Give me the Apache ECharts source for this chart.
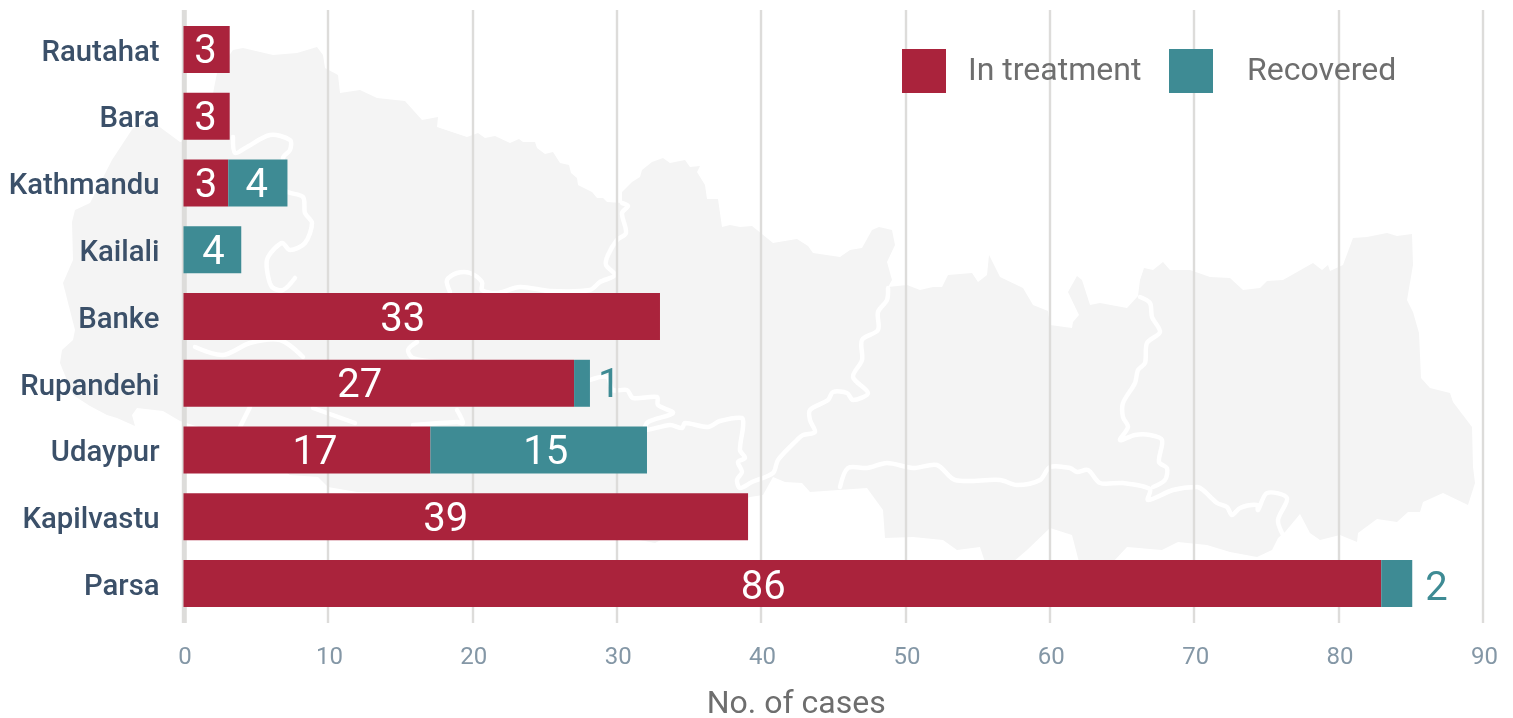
<!DOCTYPE html>
<html>
<head>
<meta charset="utf-8">
<style>html,body{margin:0;padding:0;background:#fff}#c{width:1513px;height:718px}</style>
<script src="https://cdn.jsdelivr.net/npm/echarts@6/dist/echarts.min.js"></script>
</head>
<body>
<div id="c"></div>
<script>
// Data
const districts = ['Rautahat','Bara','Kathmandu','Kailali','Banke','Rupandehi','Udaypur','Kapilvastu','Parsa'];
const inTreatment = [3.2,3.2,3.1,0,33,27.05,17.1,39.1,82.95];
const recovered   = [0,0,4.1,4,0,1.1,15,0,2.15];
// Printed labels (the reference prints 86 on a bar about 83 long)
const inTreatmentLabels = ['3','3','3','','33','27','17','39','86'];
const recoveredLabels   = ['','','4','4','','1','15','','2'];
const xTicks = [0,10,20,30,40,50,60,70,80,90];

// Hand-placed label shifts seen in the reference (px), separate from the data
const redShift  = [-1,-1,0,0,-19,-19,8,-20,-19];
const tealShift = [0,0,-1,1,0,0,7,0,0];
const tealOutsideShift = {5:3, 8:8};
const labelDrop = 4;

// Decorative backdrop: outline of Nepal (pixel geometry, not data)
const outline = [[233,50],[243,48],[273,55],[297,53],[317,47],[323,55],[325,68],[338,75],[340,93],[360,90],[377,98],[405,101],[422,120],[438,117],[437,127],[467,137],[478,133],[485,138],[495,136],[510,143],[519,139],[523,142],[535,142],[537,148],[545,154],[553,152],[560,163],[569,165],[571,173],[577,178],[578,185],[592,192],[597,198],[603,198],[607,202],[622,203],[622,192],[632,182],[640,177],[642,170],[652,162],[663,158],[670,163],[685,160],[690,167],[700,166],[697,172],[705,185],[707,199],[718,199],[722,227],[730,225],[740,227],[752,226],[762,234],[773,243],[797,239],[808,246],[813,253],[840,257],[850,250],[862,248],[872,230],[879,227],[892,230],[895,245],[887,262],[892,280],[888,287],[907,285],[920,290],[933,287],[942,287],[948,275],[972,273],[978,282],[987,275],[989,255],[1000,277],[1023,288],[1033,305],[1048,311],[1050,325],[1072,328],[1073,322],[1079,315],[1068,292],[1077,276],[1082,280],[1090,305],[1100,303],[1127,308],[1138,296],[1140,280],[1144,268],[1153,270],[1163,262],[1170,270],[1190,270],[1210,277],[1230,278],[1243,290],[1260,288],[1267,281],[1283,280],[1313,263],[1322,270],[1328,265],[1330,271],[1343,265],[1353,238],[1367,237],[1387,233],[1397,236],[1412,234],[1413,265],[1407,300],[1413,312],[1419,333],[1421,378],[1430,388],[1450,393],[1453,402],[1472,427],[1473,467],[1475,483],[1468,505],[1443,493],[1423,502],[1420,512],[1408,512],[1397,522],[1377,519],[1358,533],[1357,542],[1340,535],[1320,540],[1310,533],[1300,514],[1295,520],[1285,532],[1278,538],[1272,550],[1257,557],[1230,552],[1207,545],[1178,542],[1162,550],[1127,547],[1113,562],[1079,562],[1072,535],[1050,528],[1027,550],[1013,562],[985,562],[980,547],[957,550],[943,540],[913,537],[885,538],[883,510],[867,488],[810,492],[802,483],[785,482],[773,477],[763,495],[750,497],[700,520],[655,543],[640,540],[600,520],[430,493],[357,492],[328,487],[318,477],[290,475],[240,440],[180,421],[163,411],[137,408],[132,415],[135,426],[117,418],[107,415],[90,406],[73,395],[60,363],[62,350],[73,340],[75,330],[63,283],[73,260],[72,222],[75,210],[90,203],[112,160],[133,128],[153,122],[180,142],[205,135],[215,83],[217,73]];
const rivers = [
  [[622,203],[628,206],[622,213],[626,233],[617,240],[608,255],[606,265],[615,275],[600,282],[590,290],[550,291],[520,287],[497,293],[482,290],[482,282],[470,273],[457,273],[447,280],[450,292]],
  [[417,342],[408,350],[413,358],[440,362]],
  [[233,137],[235,153],[247,147],[270,135],[290,140],[290,150],[283,158],[285,190],[303,197],[305,213],[312,223],[305,243],[290,250],[282,243],[268,257],[267,270],[272,287],[283,290],[295,278]],
  [[195,347],[223,355],[250,343],[280,340],[303,357]],
  [[250,407],[240,427]],
  [[313,408],[355,423]],
  [[413,425],[457,422],[463,423],[457,410]],
  [[590,380],[607,377],[613,390],[627,390],[633,398],[657,397],[658,405],[673,413],[648,422],[645,430],[670,425],[682,428],[685,423],[708,427],[720,421],[742,418],[743,427],[740,450],[745,458],[738,462],[742,472],[737,480],[740,488],[752,482],[773,473],[778,460],[797,440],[803,435],[815,432],[810,420],[810,410],[828,400],[833,392],[847,393],[853,400],[868,393],[853,377],[862,360],[862,340],[878,330],[878,312],[887,300],[888,288]],
  [[840,487],[848,468],[867,468],[887,463],[913,468],[937,465],[955,480],[1000,480],[1017,485],[1040,480],[1050,467],[1070,468],[1077,472],[1088,470],[1100,483],[1123,483],[1150,489],[1148,500],[1173,490],[1197,487],[1203,490],[1217,503],[1227,507],[1232,515],[1240,508],[1257,505],[1258,510],[1267,493],[1287,498],[1278,520],[1283,535]],
  [[1140,297],[1150,303],[1152,317],[1160,332],[1147,343],[1145,363],[1138,370],[1135,383],[1123,403],[1123,417],[1128,427],[1120,440],[1135,435],[1150,435],[1162,440],[1159,462],[1167,468],[1165,480],[1153,487]]
];

const RED = '#aa233c', TEAL = '#3e8b94', FONT = 'Roboto';
const LABEL_SIZE = 40;

const redData = inTreatment.map((v,i)=>({
  value:v,
  label:{show:inTreatmentLabels[i]!=='',formatter:inTreatmentLabels[i],position:'inside',offset:[redShift[i],labelDrop + (i===8?1:0)]}
}));
const tealData = recovered.map((v,i)=>{
  const outside = tealOutsideShift[i]!==undefined;
  return {
    value:v,
    label: outside
      ? {show:true,formatter:recoveredLabels[i],position:'right',color:TEAL,offset:[tealOutsideShift[i],labelDrop + (i===8?2:0)]}
      : {show:recoveredLabels[i]!=='',formatter:recoveredLabels[i],position:'inside',offset:[tealShift[i],labelDrop]}
  };
});

const barLabel = {color:'#fff',fontFamily:FONT,fontSize:LABEL_SIZE,fontWeight:400};
const GRID_COLOR = '#dddcda';
const legendRich = pad => ({a:{color:'#6e6e6e',fontSize:32,fontFamily:FONT,padding:[1,0,0,pad]}});

const option = {
  animation:false,
  textStyle:{fontFamily:FONT},
  grid:{left:183.5,top:16,width:1299.5,height:601,containLabel:false,outerBoundsMode:'none'},
  legend:[
    {data:['In treatment'],left:902,top:49,itemWidth:44,itemHeight:44,icon:'rect',selectedMode:false,padding:0,
     formatter:n=>`{a|${n}}`,textStyle:{rich:legendRich(17)}},
    {data:['Recovered'],left:1169,top:49,itemWidth:44,itemHeight:44,icon:'rect',selectedMode:false,padding:0,
     formatter:n=>`{a|${n}}`,textStyle:{rich:legendRich(29)}}
  ],
  xAxis:[
    {type:'value',min:0,max:90,interval:10,position:'bottom',
     axisLine:{show:false},
     axisTick:{show:true,length:6,lineStyle:{color:GRID_COLOR,width:2.4}},
     splitLine:{show:true,lineStyle:{color:GRID_COLOR,width:2.4}},
     axisLabel:{color:'#8497a6',fontSize:24,fontFamily:FONT,margin:29,padding:[0,0,0,3],
       customValues:xTicks},
     name:'No. of cases',nameLocation:'middle',nameGap:72,
     nameTextStyle:{color:'#6e6e6e',fontSize:32,fontFamily:FONT,padding:[0,74,0,0]}},
    {type:'value',min:0,max:90,interval:10,position:'top',
     axisLine:{show:false},
     axisTick:{show:true,length:6,lineStyle:{color:GRID_COLOR,width:2.4}},
     splitLine:{show:false},axisLabel:{show:false}}
  ],
  yAxis:{type:'category',inverse:true,data:districts,
    axisLine:{show:false},axisTick:{show:false},splitLine:{show:false},
    axisLabel:{margin:24,formatter:v=>`{a|${v}}`,
      rich:{a:{color:'#3b5069',fontSize:29.3,fontWeight:500,fontFamily:FONT,padding:[8,0,0,0]}}}},
  graphic:{elements:[
    {type:'polygon',silent:true,z:-5,shape:{points:outline},style:{fill:'#f4f4f4'}},
    ...rivers.map(r=>({type:'polyline',silent:true,z:-4,shape:{points:r,smooth:0.3},
      style:{stroke:'#fff',lineWidth:4.5,fill:null,lineJoin:'round',lineCap:'round'}})),
    {type:'rect',silent:true,z:-1,shape:{x:181.8,y:10,width:5,height:613},style:{fill:GRID_COLOR}}
  ]},
  series:[
    {name:'In treatment',type:'bar',stack:'t',barWidth:47,xAxisIndex:0,
     itemStyle:{color:RED},label:barLabel,data:redData},
    {name:'Recovered',type:'bar',stack:'t',barWidth:47,xAxisIndex:0,
     itemStyle:{color:TEAL},label:barLabel,data:tealData}
  ]
};
const chart = echarts.init(document.getElementById('c'),null,{renderer:'canvas'});
chart.setOption(option);
</script>
</body>
</html>
